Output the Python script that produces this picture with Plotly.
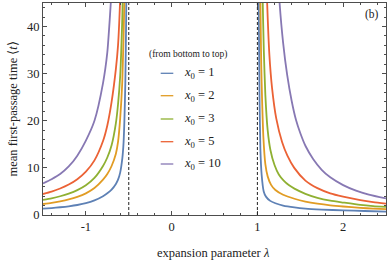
import plotly.graph_objects as go

# ---------------- data ----------------
x0_values = [1, 2, 3, 5, 10]
series_colors = ["#5E81B5", "#E19C24", "#8FB032", "#EB6235", "#8778B3"]

asymptotes = [-0.5, 1.0]

# left branch (lambda < -1/2)
lam_left_x1 = [-1.5, -1.4, -1.3, -1.2, -1.1, -1.0, -0.9, -0.8, -0.75, -0.7, -0.65, -0.625, -0.6, -0.575, -0.56, -0.55, -0.54, -0.53, -0.522]
t_left_x1 = [1.35, 1.48, 1.64, 1.85, 2.12, 2.5, 3.1, 4.0, 4.6, 5.4, 6.6, 7.5, 9.0, 12.0, 15.5, 20.5, 28, 42, 62]

lam_left_x2 = [-1.5, -1.4, -1.3, -1.2, -1.1, -1.0, -0.9, -0.8, -0.75, -0.7, -0.65, -0.625, -0.6, -0.575, -0.55, -0.54]
t_left_x2 = [2.33, 2.58, 2.9, 3.3, 3.84, 4.6, 5.72, 7.5, 8.7, 10.4, 13.0, 15.5, 20.5, 28.5, 46, 62]

lam_left_x3 = [-1.5, -1.4, -1.3, -1.2, -1.1, -1.0, -0.9, -0.8, -0.75, -0.7, -0.65, -0.625, -0.6, -0.575, -0.55]
t_left_x3 = [3.2, 3.55, 3.98, 4.54, 5.28, 6.31, 7.86, 10.4, 12.2, 14.8, 19.5, 23.5, 29.5, 42, 63]

lam_left_x5 = [-1.5, -1.4, -1.3, -1.2, -1.1, -1.0, -0.9, -0.8, -0.75, -0.7, -0.65, -0.625, -0.6, -0.575]
t_left_x5 = [4.45, 4.97, 5.62, 6.46, 7.6, 9.2, 11.6, 15.7, 19.0, 24.0, 31.0, 36, 46, 63]

lam_left_x10 = [-1.5, -1.4, -1.3, -1.2, -1.1, -1.0, -0.9, -0.8, -0.75, -0.72, -0.7, -0.67]
t_left_x10 = [6.7, 7.6, 8.7, 10.3, 12.6, 15.8, 20.0, 28.0, 34.5, 42, 48, 60]

# right branch (lambda > 1)
lam_right_x1 = [1.012, 1.018, 1.025, 1.035, 1.05, 1.074, 1.1, 1.15, 1.21, 1.3, 1.432, 1.56, 1.75, 2.0, 2.25, 2.5]
t_right_x1 = [60, 40, 25, 14, 8.5, 5.0, 3.9, 3.0, 2.5, 2.0, 1.6, 1.35, 1.15, 0.98, 0.85, 0.72]

lam_right_x2 = [1.028, 1.035, 1.045, 1.055, 1.07, 1.093, 1.12, 1.16, 1.21, 1.3, 1.432, 1.56, 1.7, 1.85, 2.0, 2.2, 2.35, 2.5]
t_right_x2 = [58, 45.6, 32, 24.4, 16.5, 10.8, 8.2, 6.4, 5.3, 4.3, 3.45, 2.85, 2.4, 2.05, 1.8, 1.52, 1.36, 1.25]

lam_right_x3 = [1.05, 1.062, 1.075, 1.093, 1.12, 1.152, 1.2, 1.25, 1.307, 1.37, 1.432, 1.56, 1.7, 1.85, 2.0, 2.2, 2.35, 2.5]
t_right_x3 = [58, 45.6, 35, 25.5, 18, 13.8, 10.6, 8.6, 7.3, 6.3, 5.6, 4.5, 3.65, 3.05, 2.65, 2.15, 1.9, 1.72]

lam_right_x5 = [1.09, 1.113, 1.14, 1.171, 1.22, 1.288, 1.35, 1.43, 1.56, 1.7, 1.85, 2.0, 2.2, 2.35, 2.5]
t_right_x5 = [60, 45.6, 34, 27, 20.5, 15.5, 12.6, 10.0, 7.3, 5.7, 4.6, 3.9, 3.15, 2.72, 2.4]

lam_right_x10 = [1.22, 1.257, 1.3, 1.347, 1.4, 1.45, 1.5, 1.56, 1.65, 1.75, 1.85, 2.0, 2.15, 2.3, 2.5]
t_right_x10 = [57, 45.5, 36.6, 29.8, 24.2, 20.2, 17.4, 14.7, 11.9, 9.6, 8.0, 6.35, 5.18, 4.34, 3.53]

x_tick_vals = [-1, 0, 1, 2]
x_tick_text = ["-1", "0", "1", "2"]
y_tick_vals = [0, 10, 20, 30, 40]

x_title = "expansion parameter <i>λ</i>"
y_title = "mean first-passage time ⟨<i>t</i>⟩"
legend_header = "(from bottom to top)"
panel_label = "(b)"

left_lams = [lam_left_x1, lam_left_x2, lam_left_x3, lam_left_x5, lam_left_x10]
left_ts = [t_left_x1, t_left_x2, t_left_x3, t_left_x5, t_left_x10]
right_lams = [lam_right_x1, lam_right_x2, lam_right_x3, lam_right_x5, lam_right_x10]
right_ts = [t_right_x1, t_right_x2, t_right_x3, t_right_x5, t_right_x10]

# ---------------- figure ----------------
SERIF = "Liberation Serif, Times New Roman, serif"
FRAME = "#4d4d4d"
W, H = 390, 266
ML, MR, MT, MB = 43, 4, 3, 51
PW, PH = W - ML - MR, H - MT - MB


def px_to_paper(px, py):
    return (px - ML) / PW, (H - MB - py) / PH


fig = go.Figure()

for i, x0 in enumerate(x0_values):
    for lams, ts in ((left_lams[i], left_ts[i]), (right_lams[i], right_ts[i])):
        fig.add_trace(go.Scatter(
            x=lams, y=ts, mode="lines",
            line=dict(color=series_colors[i], width=1.8, shape="spline", smoothing=0.6),
            showlegend=False, hoverinfo="skip",
        ))

for a in asymptotes:
    fig.add_shape(type="line", xref="x", yref="paper", x0=a, x1=a, y0=0, y1=1,
                  line=dict(color="#222222", width=1, dash="3px,2px"))

# custom legend
hx, hy = px_to_paper(188, 54)
fig.add_annotation(text=legend_header, xref="paper", yref="paper", x=hx, y=hy,
                   showarrow=False, xanchor="center", yanchor="middle",
                   font=dict(family=SERIF, size=9.5, color="#222222"))
row_py = [73.3, 95.7, 119, 141.7, 164]
for i, x0 in enumerate(x0_values):
    lx0, ly = px_to_paper(160.7, row_py[i])
    lx1, _ = px_to_paper(173.3, row_py[i])
    fig.add_shape(type="line", xref="paper", yref="paper", x0=lx0, x1=lx1, y0=ly, y1=ly,
                  line=dict(color=series_colors[i], width=1.3))
    tx, ty = px_to_paper(181.5, row_py[i])
    fig.add_annotation(text=f"<i>x</i><sub>0</sub> = {x0}", xref="paper", yref="paper",
                       x=tx, y=ty, showarrow=False, xanchor="left", yanchor="middle",
                       font=dict(family=SERIF, size=12.5, color="#222222"))

# panel label
bx, by = px_to_paper(381, 15)
fig.add_annotation(text=panel_label, xref="paper", yref="paper", x=bx, y=by,
                   showarrow=False, xanchor="right", yanchor="middle",
                   font=dict(family=SERIF, size=11.5, color="#222222"))

# axis titles
tx, ty = px_to_paper(213, 253)
fig.add_annotation(text=x_title, xref="paper", yref="paper", x=tx, y=ty,
                   showarrow=False, xanchor="center", yanchor="middle",
                   font=dict(family=SERIF, size=12.5, color="#222222"))
tx, ty = px_to_paper(12.5, 109)
fig.add_annotation(text=y_title, xref="paper", yref="paper", x=tx, y=ty, textangle=-90,
                   showarrow=False, xanchor="center", yanchor="middle",
                   font=dict(family=SERIF, size=12.5, color="#222222"))

axis_common = dict(
    showline=True, linecolor=FRAME, linewidth=1, mirror="allticks",
    ticks="inside", ticklen=4, tickcolor=FRAME, tickwidth=1,
    showgrid=False, zeroline=False,
    tickfont=dict(family=SERIF, size=12.5, color="#222222"),
)

fig.update_xaxes(range=[-1.5, 2.5], tickvals=x_tick_vals, ticktext=x_tick_text,
                 minor=dict(dtick=0.2, tick0=0, ticklen=2, ticks="inside", tickcolor=FRAME, showgrid=False),
                 **axis_common)
fig.update_yaxes(range=[0, 45], tickvals=y_tick_vals,
                 minor=dict(dtick=2, tick0=0, ticklen=2, ticks="inside", tickcolor=FRAME, showgrid=False),
                 **axis_common)

fig.update_layout(
    width=W, height=H,
    margin=dict(l=ML, r=MR, t=MT, b=MB),
    plot_bgcolor="white", paper_bgcolor="white",
    showlegend=False,
)

fig.write_html("out.html", config={"displayModeBar": False},
               post_script="document.body.style.margin='0';document.body.style.padding='0';document.body.style.overflow='hidden';")
